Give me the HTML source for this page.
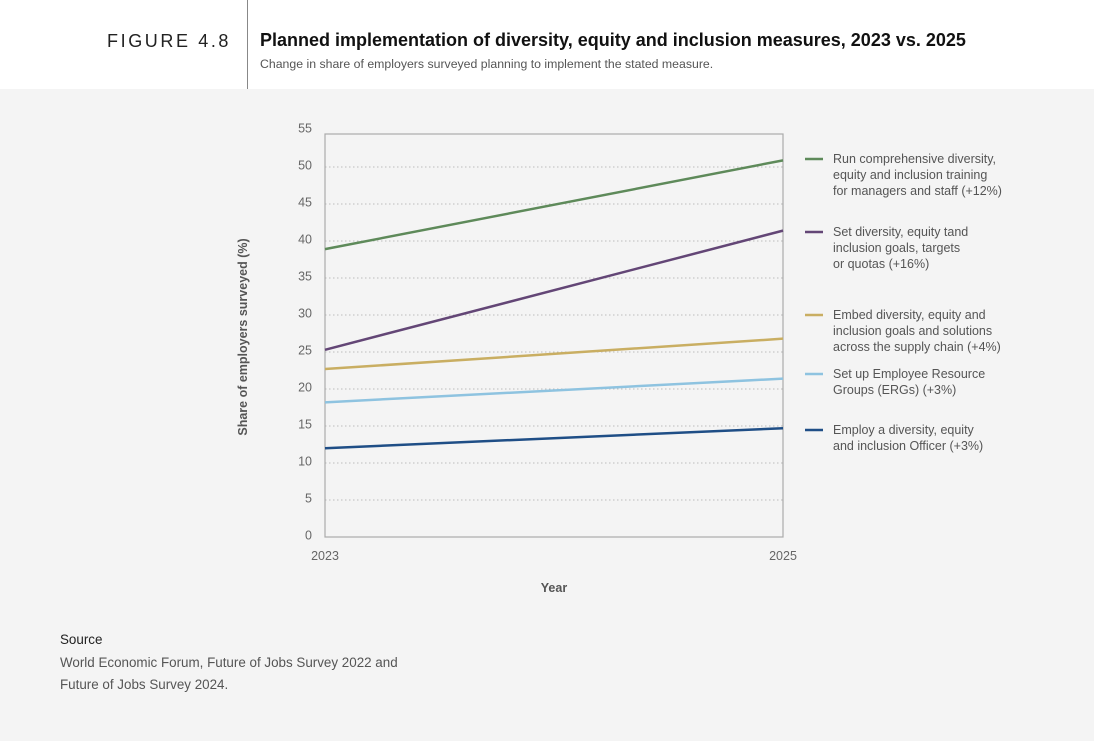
<!DOCTYPE html>
<html><head><meta charset="utf-8"><style>
body{margin:0;width:1094px;height:741px;background:#f4f4f4;font-family:"Liberation Sans",sans-serif;position:relative;overflow:hidden}
.hdr{position:absolute;left:0;top:0;width:1094px;height:89px;background:#fff}
.t{position:absolute;white-space:nowrap}
</style></head><body>
<div class="hdr"></div>
<div style="position:absolute;left:247px;top:0;width:1px;height:89px;background:#888"></div>
<div class="t" style="left:107px;top:31px;font-size:18px;letter-spacing:2.6px;color:#222">FIGURE 4.8</div>
<div class="t" style="left:260px;top:30px;font-size:18px;font-weight:bold;color:#111">Planned implementation of diversity, equity and inclusion measures, 2023 vs. 2025</div>
<div class="t" style="left:260px;top:57px;font-size:12.3px;color:#555">Change in share of employers surveyed planning to implement the stated measure.</div>
<svg id="c" width="1094" height="741" style="position:absolute;left:0;top:0"></svg>
<div class="t" style="left:60px;top:632px;font-size:13.4px;color:#222">Source</div>
<div class="t" style="left:60px;top:652px;font-size:13.4px;line-height:22px;color:#555">World Economic Forum, Future of Jobs Survey 2022 and<br>Future of Jobs Survey 2024.</div>
<script>
const years=["2023","2025"];
const yTicks=[0,5,10,15,20,25,30,35,40,45,50,55];
const s1=[38.9,50.9],s2=[25.3,41.4],s3=[22.7,26.8],s4=[18.2,21.4],s5=[12,14.7];
const seriesNames=[["Run comprehensive diversity,","equity and inclusion training","for managers and staff (+12%)"],["Set diversity, equity tand","inclusion goals, targets","or quotas (+16%)"],["Embed diversity, equity and","inclusion goals and solutions","across the supply chain (+4%)"],["Set up Employee Resource","Groups (ERGs) (+3%)"],["Employ a diversity, equity","and inclusion Officer (+3%)"]];
const colors=["#5e8a5a","#634676","#c9ae62","#8ec3e0","#1f4e86"];
const legendY=[159,232,315,374,430];
const svg=document.getElementById('c');const NS="http://www.w3.org/2000/svg";
const L=325,R=783,T=134;
const x=i=>L+i*(R-L)/(years.length-1);
const y=v=>537-v*7.4;
function mk(tag,a,txt){const e=document.createElementNS(NS,tag);for(const k in a)e.setAttribute(k,a[k]);if(txt!=null)e.textContent=txt;svg.appendChild(e);return e;}
yTicks.forEach(v=>{
 if(v>0&&v<55){const g=mk('line',{x1:L,x2:R,y1:y(v),y2:y(v),stroke:'#bbb','stroke-dasharray':'1.5 2.5','stroke-width':1});
 
 }
 const t=mk('text',{x:312,y:y(v)+0.5-3+5,'text-anchor':'end','font-size':12.5,fill:'#666','font-family':'Liberation Sans'},v);
 
 
});
const fr=mk('rect',{x:L,y:T,width:R-L,height:537-T,fill:'none',stroke:'#aaa','stroke-width':1.2});


years.forEach((yr,i)=>{const t=mk('text',{x:x(i),y:560,'text-anchor':'middle','font-size':12.5,fill:'#666','font-family':'Liberation Sans'},yr);

});
const xt=mk('text',{x:554,y:592,'text-anchor':'middle','font-size':12.5,'font-weight':'bold',fill:'#555','font-family':'Liberation Sans'},'Year');


const yt=mk('text',{x:0,y:0,transform:'translate(247,337) rotate(-90)','text-anchor':'middle','font-size':12.5,'font-weight':'bold',fill:'#555','font-family':'Liberation Sans'},'Share of employers surveyed (%)');


[s1,s2,s3,s4,s5].forEach((s,k)=>{
 const p=mk('polyline',{points:s.map((v,i)=>x(i)+','+y(v)).join(' '),fill:'none',stroke:colors[k],'stroke-width':2.5});
 
 
 const ly=legendY[k];
 const ll=mk('line',{x1:805,x2:823,y1:ly,y2:ly,stroke:colors[k],'stroke-width':2.5});
 
 
 seriesNames[k].forEach((ln,j)=>{const t=mk('text',{x:833,y:ly+4+j*16,'font-size':12.5,fill:'#555','font-family':'Liberation Sans'},ln);
 
 });
});
</script>
</body></html>
